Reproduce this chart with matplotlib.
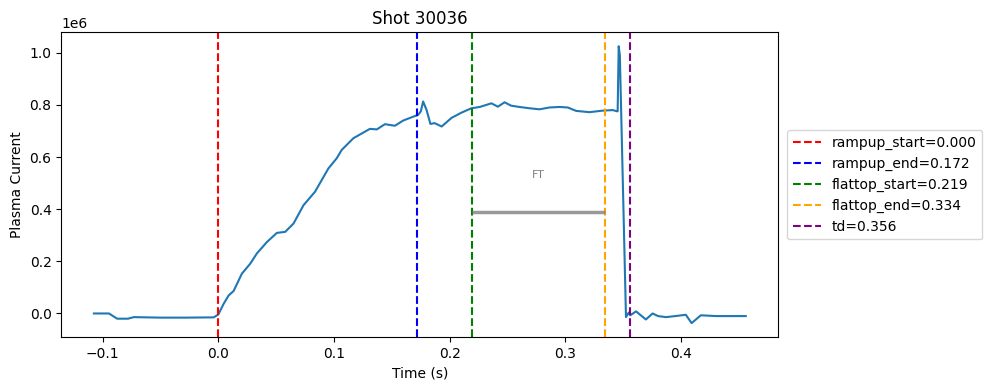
import numpy as np
import matplotlib.pyplot as plt

shot = 30036
t = [-0.1075, -0.0945, -0.0874, -0.078, -0.073, -0.05, -0.03, -0.004, 0.0,
     0.0046, 0.0089, 0.0132, 0.0204, 0.0276, 0.0333, 0.042, 0.0506, 0.0578,
     0.065, 0.0736, 0.0836, 0.0951, 0.1023, 0.1066, 0.1167, 0.131, 0.137,
     0.144, 0.1526, 0.1598, 0.1727, 0.175, 0.177, 0.18, 0.1833, 0.187, 0.193,
     0.2015, 0.21, 0.2187, 0.2259, 0.236, 0.2416, 0.2474, 0.253, 0.2603,
     0.269, 0.2776, 0.2862, 0.2948, 0.302, 0.3092, 0.3207, 0.3322, 0.3408,
     0.3451, 0.346, 0.347, 0.3523, 0.3546, 0.356, 0.361, 0.3695, 0.3753,
     0.38, 0.3868, 0.395, 0.404, 0.409, 0.417, 0.43, 0.4558]
ip = [0.0, 0.0, -0.02, -0.02, -0.014, -0.016, -0.016, -0.015, -0.004,
      0.037, 0.069, 0.086, 0.153, 0.191, 0.23, 0.274, 0.309, 0.313,
      0.345, 0.415, 0.467, 0.556, 0.595, 0.627, 0.672, 0.708, 0.706,
      0.726, 0.72, 0.74, 0.762, 0.775, 0.813, 0.78, 0.727, 0.73, 0.717,
      0.75, 0.77, 0.787, 0.792, 0.806, 0.793, 0.81, 0.797, 0.792,
      0.787, 0.783, 0.79, 0.792, 0.79, 0.777, 0.772, 0.778, 0.78,
      0.775, 1.025, 0.99, -0.014, 0.003, -0.007, 0.008, -0.023, 0.0,
      -0.01, -0.014, -0.01, -0.005, -0.037, -0.007, -0.01, -0.01]
ip = np.array(ip) * 1e6

events = ['rampup_start', 'rampup_end', 'flattop_start', 'flattop_end', 'td']
times = [0.000, 0.172, 0.219, 0.334, 0.356]
colors = ['red', 'blue', 'green', 'orange', 'purple']

fig, ax = plt.subplots(figsize=(9.89, 3.9), dpi=100)
ax.plot(t, ip)

for name, tv, c in zip(events, times, colors):
    ax.axvline(tv, color=c, linestyle='--', label=f'{name}={tv:.3f}')

# flattop marker
ft_y = 0.39e6
ax.hlines(ft_y, times[2], times[3], color='gray', lw=2.5, alpha=0.8)
ax.text((times[2] + times[3]) / 2, 0.53e6, 'FT', color='gray',
        fontsize=8, ha='center', va='center')

ax.set_title(f'Shot {shot}')
ax.set_xlabel('Time (s)')
ax.set_ylabel('Plasma Current')
ax.legend(loc='center left', bbox_to_anchor=(1.003, 0.5))

fig.subplots_adjust(left=0.062, right=0.787, top=0.917, bottom=0.136)
plt.savefig('out.png')
